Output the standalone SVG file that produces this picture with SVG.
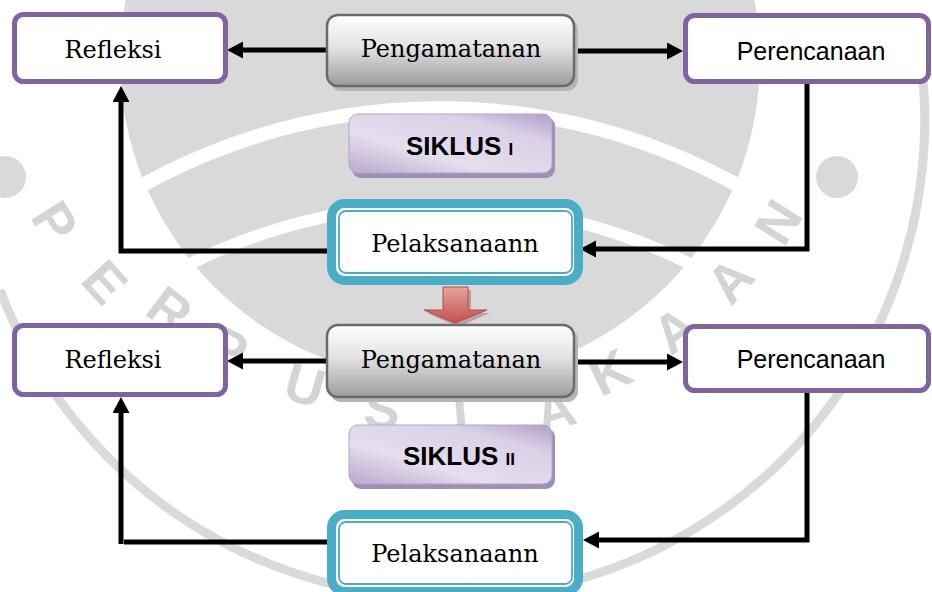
<svg xmlns="http://www.w3.org/2000/svg" width="932" height="592" viewBox="0 0 932 592">
  <defs>
    <linearGradient id="gGray" x1="0" y1="0" x2="0" y2="1">
      <stop offset="0" stop-color="#ffffff"/>
      <stop offset="0.45" stop-color="#e2e2e2"/>
      <stop offset="1" stop-color="#9c9c9c"/>
    </linearGradient>
    <linearGradient id="gLav" x1="0" y1="1" x2="1" y2="0">
      <stop offset="0" stop-color="#b8a8cd"/>
      <stop offset="0.35" stop-color="#e4deed"/>
      <stop offset="0.75" stop-color="#d9d0e6"/>
      <stop offset="1" stop-color="#b09ec8"/>
    </linearGradient>
    <linearGradient id="gRed" x1="0" y1="0" x2="0" y2="1">
      <stop offset="0" stop-color="#e9a3a1"/>
      <stop offset="1" stop-color="#c0504d"/>
    </linearGradient>
    <marker id="ah" markerUnits="userSpaceOnUse" markerWidth="18" markerHeight="18" refX="3" refY="8.5" orient="auto">
      <path d="M0,0 L16,8.5 L0,17 z" fill="#000"/>
    </marker>
  </defs>
  <style>
    .wm { fill: #d9d9d9; }
    .wmL { font-family: "Liberation Sans", Arial, sans-serif; font-weight: bold; font-size: 54px; fill: #d4d4d4; text-anchor: middle; }
    .purple { fill: #ffffff; stroke: #8064a2; stroke-width: 5; }
    .grayShadow { fill: #b5b5b5; }
    .gray { fill: url(#gGray); stroke: #6b6b6b; stroke-width: 2.5; }
    .lavShadow { fill: #9e8fb4; }
    .lav { fill: url(#gLav); stroke: #b4a5ca; stroke-width: 1; }
    .tealOuter { fill: #ffffff; stroke: #4bacc6; stroke-width: 9; }
    .tealInner { fill: none; stroke: #4bacc6; stroke-width: 1.8; }
    .serif { font-family: "DejaVu Serif", "Liberation Serif", serif; font-size: 24px; fill: #000; }
    .sans { font-family: "Liberation Sans", Arial, sans-serif; font-size: 25px; fill: #000; }
    .bold { font-family: "Liberation Sans", Arial, sans-serif; font-weight: bold; font-size: 26px; fill: #000; }
    .conn { fill: none; stroke: #000; stroke-width: 5; }
    .arr { marker-end: url(#ah); }
  </style>
  <rect width="932" height="592" fill="#ffffff"/>
  <g id="watermark">
    <circle class="wm" cx="440" cy="60" r="320"/>
    <path d="M 60,240 A 614 614 0 0 1 820,240" fill="none" stroke="#ffffff" stroke-width="14"/>
    <path d="M 100,320 A 560 560 0 0 1 780,320" fill="none" stroke="#ffffff" stroke-width="12"/>
    <circle class="wm" cx="5" cy="177" r="21"/>
    <circle class="wm" cx="837" cy="177" r="21"/>
    <path d="M 0,290 A 478 478 0 0 0 918,40" fill="none" stroke="#dadada" stroke-width="9"/>
    <text class="wmL" transform="translate(55,222) rotate(58)" dy="0.35em">P</text>
    <text class="wmL" transform="translate(105,282) rotate(48)" dy="0.35em">E</text>
    <text class="wmL" transform="translate(170,310) rotate(37)" dy="0.35em">R</text>
    <text class="wmL" transform="translate(228,348) rotate(27)" dy="0.35em">P</text>
    <text class="wmL" transform="translate(305,385) rotate(16)" dy="0.35em">U</text>
    <text class="wmL" transform="translate(382,409) rotate(5)" dy="0.35em">S</text>
    <text class="wmL" transform="translate(460,409) rotate(-5)" dy="0.35em">T</text>
    <text class="wmL" transform="translate(555,410) rotate(-16)" dy="0.35em">A</text>
    <text class="wmL" transform="translate(610,372) rotate(-26)" dy="0.35em">K</text>
    <text class="wmL" transform="translate(675,330) rotate(-37)" dy="0.35em">A</text>
    <text class="wmL" transform="translate(730,280) rotate(-48)" dy="0.35em">A</text>
    <text class="wmL" transform="translate(778,222) rotate(-58)" dy="0.35em">N</text>
  </g>
  <g id="connectors">
    <path class="conn arr" d="M327,50 L240,50"/>
    <path class="conn arr" d="M575,51 L670,51"/>
    <path class="conn arr" d="M332,251 L121,251 L121,99"/>
    <path class="conn arr" d="M807,84 L807,249 L593,249"/>
    <path class="conn arr" d="M327,361 L240,361"/>
    <path class="conn arr" d="M575,362 L670,362"/>
    <path class="conn arr" d="M121,544 L121,410"/>
    <path class="conn" d="M124,542 L332,542"/>
    <path class="conn arr" d="M807,393 L807,540 L596,540"/>
  </g>
  <g id="refleksi1">
    <rect class="purple" x="14.5" y="14.5" width="211" height="67" rx="9"/>
    <text class="serif" x="113" y="58" text-anchor="middle">Refleksi</text>
  </g>
  <g id="pengamatanan1">
    <rect class="grayShadow" x="330" y="19" width="248" height="72" rx="11"/>
    <rect class="gray" x="327" y="15" width="247" height="71" rx="11"/>
    <text class="serif" x="451" y="57" text-anchor="middle">Pengamatanan</text>
  </g>
  <g id="perencanaan1">
    <rect class="purple" x="685.5" y="15.5" width="243" height="66" rx="9"/>
    <text class="sans" x="811" y="60" text-anchor="middle">Perencanaan</text>
  </g>
  <g id="siklus1">
    <rect class="lavShadow" x="352" y="117" width="203" height="61" rx="9"/>
    <rect class="lav" x="349" y="114" width="203" height="59" rx="9"/>
    <text class="bold" x="406" y="155">SIKLUS <tspan font-size="17">I</tspan></text>
  </g>
  <g id="pelaksanaan1">
    <rect class="tealOuter" x="331.5" y="203.5" width="247" height="77" rx="13"/>
    <rect class="tealInner" x="339" y="211" width="233" height="62" rx="7"/>
    <text class="serif" x="455" y="252" text-anchor="middle">Pelaksanaann</text>
  </g>
  <g id="transition">
    <path d="M446,290 L471,290 L471,313 L490,313 L458,327 L427,313 L446,313 z" fill="#8a3a38" opacity="0.35"/>
    <path d="M443,287 L468,287 L468,310 L487,310 L455,323 L424,310 L443,310 z" fill="url(#gRed)" stroke="#b04b48" stroke-width="1"/>
  </g>
  <g id="refleksi2">
    <rect class="purple" x="14.5" y="325.5" width="211" height="69" rx="9"/>
    <text class="serif" x="113" y="368" text-anchor="middle">Refleksi</text>
  </g>
  <g id="pengamatanan2">
    <rect class="grayShadow" x="330" y="329" width="248" height="73" rx="11"/>
    <rect class="gray" x="327" y="325" width="247" height="72" rx="11"/>
    <text class="serif" x="451" y="368" text-anchor="middle">Pengamatanan</text>
  </g>
  <g id="perencanaan2">
    <rect class="purple" x="685.5" y="326.5" width="243" height="64" rx="9"/>
    <text class="sans" x="811" y="368" text-anchor="middle">Perencanaan</text>
  </g>
  <g id="siklus2">
    <rect class="lavShadow" x="352" y="428" width="203" height="61" rx="9"/>
    <rect class="lav" x="349" y="425" width="203" height="59" rx="9"/>
    <text class="bold" x="403" y="465">SIKLUS <tspan font-size="17">II</tspan></text>
  </g>
  <g id="pelaksanaan2">
    <rect class="tealOuter" x="331.5" y="514.5" width="247" height="77" rx="13"/>
    <rect class="tealInner" x="339" y="522" width="233" height="62" rx="7"/>
    <text class="serif" x="455" y="562" text-anchor="middle">Pelaksanaann</text>
  </g>
</svg>
